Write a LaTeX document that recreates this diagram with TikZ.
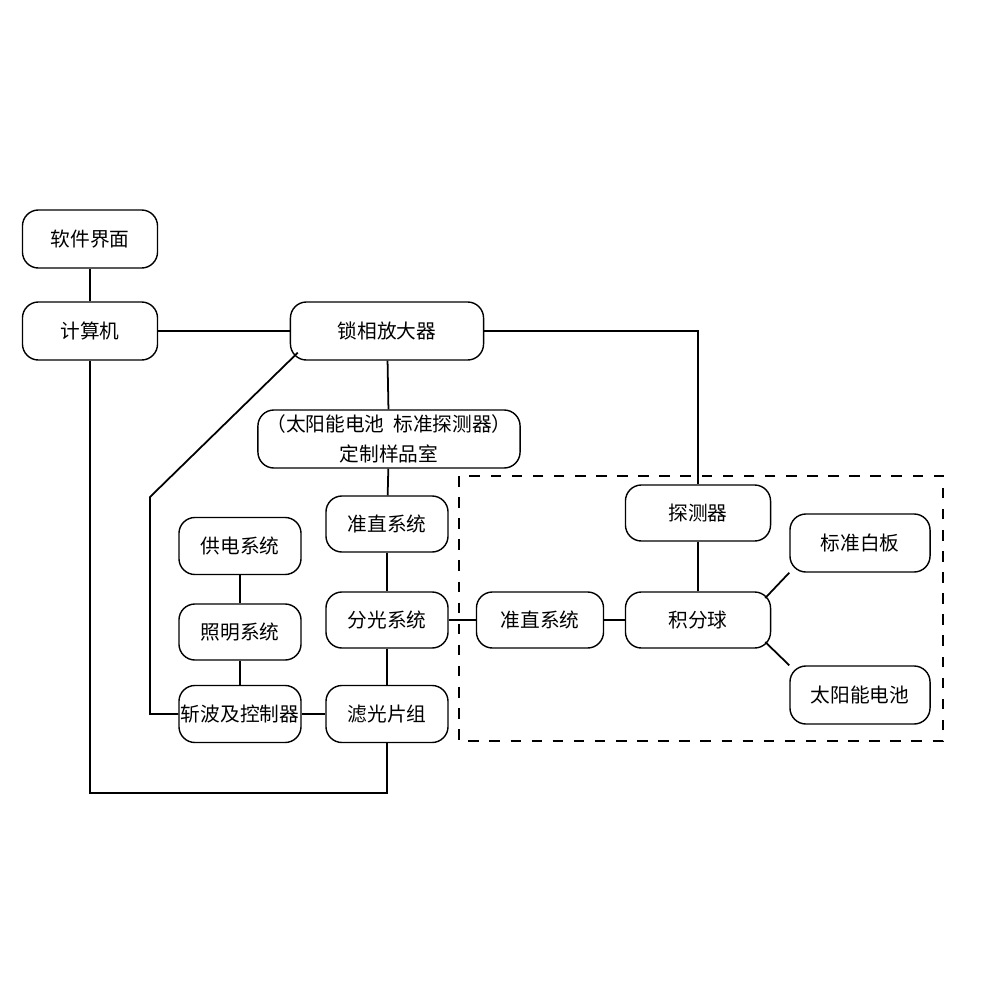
\documentclass[tikz,border=0pt]{standalone}
\usepackage{fontspec}
\newfontfamily\cjk{Noto Sans CJK SC}
\usetikzlibrary{calc}
\begin{document}
\begin{tikzpicture}[x=0.01cm, y=-0.01cm,
    box/.style={draw, rounded corners=0.16cm, inner sep=0pt, align=center,
      font=\cjk\fontsize{5.6}{8.5}\selectfont},
    ln/.style={draw, line width=0.5pt}]
    \useasboundingbox (0,0) rectangle (1000,1000);
    \node[box, minimum width=1.35cm, minimum height=0.58cm] (soft) at (90,239) {软件界面};
    \node[box, minimum width=1.35cm, minimum height=0.58cm] (pc) at (90,331) {计算机};
    \node[box, minimum width=1.93cm, minimum height=0.58cm] (lock) at (387,331) {锁相放大器};
    \node[box, minimum width=2.62cm, minimum height=0.58cm] (room) at (389,439) {（太阳能电池\ \ 标准探测器）\\定制样品室};
    \node[box, minimum width=1.22cm, minimum height=0.56cm] (col) at (387,524) {准直系统};
    \node[box, minimum width=1.22cm, minimum height=0.57cm] (pow) at (240,546) {供电系统};
    \node[box, minimum width=1.22cm, minimum height=0.56cm] (lamp) at (240,632) {照明系统};
    \node[box, minimum width=1.22cm, minimum height=0.56cm] (mono) at (387,620) {分光系统};
    \node[box, minimum width=1.22cm, minimum height=0.57cm] (chop) at (240,714) {斩波及控制器};
    \node[box, minimum width=1.22cm, minimum height=0.57cm] (filt) at (387,714) {滤光片组};
    \node[box, minimum width=1.27cm, minimum height=0.56cm] (col2) at (540,620) {准直系统};
    \node[box, minimum width=1.45cm, minimum height=0.56cm] (det) at (698,513) {探测器};
    \node[box, minimum width=1.45cm, minimum height=0.56cm] (sph) at (698,620) {积分球};
    \node[box, minimum width=1.40cm, minimum height=0.58cm] (white) at (860,543) {标准白板};
    \node[box, minimum width=1.40cm, minimum height=0.58cm] (cell) at (860,695) {太阳能电池};
    \draw[dashed, line width=0.5pt] (459,476) rectangle (943,741);
    % connectors
    \draw[ln] (soft) -- (pc);
    \draw[ln] (pc) -- (lock);
    \draw[ln] (lock.east) -| (det.north);
    \draw[ln] (lock) -- (room);
    \draw[ln] (room) -- (col);
    \draw[ln] (col) -- (mono);
    \draw[ln] (mono) -- (filt);
    \draw[ln] (pow) -- (lamp);
    \draw[ln] (lamp) -- (chop);
    \draw[ln] (chop) -- (filt);
    \draw[ln] (mono) -- (col2);
    \draw[ln] (col2) -- (sph);
    \draw[ln] (det) -- (sph);
    \draw[ln] ($(sph.east)+(-6,-22)$) -- (white.south west);
    \draw[ln] ($(sph.east)+(-6,22)$) -- (cell.north west);
    \coordinate (k1) at (150,497);
    \draw[ln] ($(lock.south west)+(8,-8)$) -- (k1) |- (chop.west);
    \draw[ln] (pc.south) |- (387,793) -- (filt.south);
\end{tikzpicture}
\end{document}
